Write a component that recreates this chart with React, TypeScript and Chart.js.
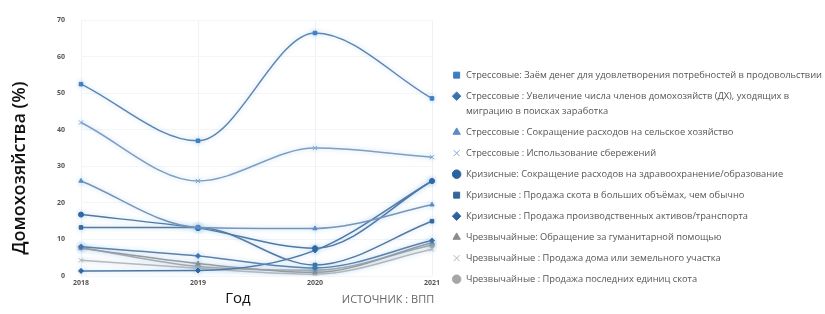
import React, { useEffect, useRef } from 'react';
import { Chart, registerables } from 'chart.js';

Chart.register(...registerables);

// ---- data ----
const years = ['2018', '2019', '2020', '2021'];

const borrowForFood = [52.5, 37, 66.5, 48.6];
const migrationForWork = [8.0, 5.5, 2.2, 9.7];
const agriSpendingCut = [26, 13.3, 13, 19.5];
const savingsUse = [42, 26, 35, 32.5];
const healthEduCut = [16.8, 13.1, 7.6, 26];
const livestockSaleMore = [13.3, 13.3, 3.0, 15];
const productiveAssetsSale = [1.4, 1.5, 7.0, 26];
const humanitarianAid = [7.6, 3.4, 1.0, 9.1];
const houseLandSale = [4.3, 2.1, 0.5, 7.3];
const lastLivestockSale = [7.8, 2.6, 1.6, 8.5];

const seriesLabels: string[][] = [
  ['Стрессовые: Заём денег для удовлетворения потребностей в продовольствии'],
  ['Стрессовые : Увеличение числа членов домохозяйств (ДХ), уходящих в', 'миграцию в поисках заработка'],
  ['Стрессовые : Сокращение расходов на сельское хозяйство'],
  ['Стрессовые : Использование сбережений'],
  ['Кризисные: Сокращение расходов на здравоохранение/образование'],
  ['Кризисные : Продажа скота в больших объёмах, чем обычно'],
  ['Кризисные : Продажа производственных активов/транспорта'],
  ['Чрезвычайные: Обращение за гуманитарной помощью'],
  ['Чрезвычайные : Продажа дома или земельного участка'],
  ['Чрезвычайные : Продажа последних единиц скота'],
];

const seriesValues = [
  borrowForFood,
  migrationForWork,
  agriSpendingCut,
  savingsUse,
  healthEduCut,
  livestockSaleMore,
  productiveAssetsSale,
  humanitarianAid,
  houseLandSale,
  lastLivestockSale,
];

const markerColors = [
  '#3b7dc2', '#3a74b0', '#5b8cc4', '#7fa7d4', '#2a64a0',
  '#33669a', '#2c62a0', '#8c8c8c', '#b4b4b4', '#a6a6a6',
];
const lineColors = [
  '#5f86b0', '#5a82ad', '#7595b8', '#7f9fc2', '#4f79a6',
  '#55799f', '#4e77a4', '#9a9a9a', '#b8b8b8', '#aaaaaa',
];
const markerStyles = [
  'rect', 'rectRot', 'triangle', 'crossRot', 'circle',
  'rect', 'rectRot', 'triangle', 'crossRot', 'circle',
];

const FONT = "'Open Sans', 'DejaVu Sans', sans-serif";

const glowPlugin = {
  id: 'glow',
  beforeDatasetsDraw(chart: any) {
    const ctx = chart.ctx;
    ctx.save();
    ctx.shadowColor = 'rgba(110, 170, 225, 0.45)';
    ctx.shadowBlur = 5;
  },
  afterDatasetsDraw(chart: any) {
    chart.ctx.restore();
  },
};

const textPlugin = {
  id: 'extraText',
  afterDraw(chart: any) {
    const ctx = chart.ctx;
    ctx.save();
    ctx.textAlign = 'center';
    ctx.textBaseline = 'middle';
    // y title
    ctx.save();
    ctx.translate(20, 168);
    ctx.rotate(-Math.PI / 2);
    ctx.fillStyle = '#111';
    ctx.font = `600 18px ${FONT}`;
    ctx.fillText('Домохозяйства (%)', 0, 0);
    ctx.restore();
    // x title
    ctx.fillStyle = '#111';
    ctx.font = `15px ${FONT}`;
    ctx.fillText('Год', 238, 299);
    // source
    ctx.fillStyle = '#666';
    ctx.font = `11px ${FONT}`;
    ctx.fillText('ИСТОЧНИК : ВПП', 388, 300);
    ctx.restore();
  },
};

export default function App() {
  const ref = useRef<HTMLCanvasElement>(null);

  useEffect(() => {
    Chart.defaults.font.family = FONT;
    const datasets = seriesValues.map((vals, i) => ({
      label: seriesLabels[i].join(' '),
      data: vals,
      borderColor: lineColors[i],
      backgroundColor: markerColors[i],
      pointBackgroundColor: markerColors[i],
      pointBorderColor: markerColors[i],
      pointBorderWidth: 1,
      pointStyle: markerStyles[i],
      pointRadius: markerStyles[i] === 'crossRot' ? 3 : 2.5,
      borderWidth: 1.5,
      cubicInterpolationMode: 'monotone',
      tension: 0.4,
      fill: false,
    }));

    const chart = new Chart(ref.current!, {
      type: 'line',
      data: { labels: years, datasets },
      options: {
        animation: false,
        responsive: true,
        maintainAspectRatio: false,
        layout: { padding: { top: 17, right: 0, bottom: 0, left: 0 } },
        plugins: {
          tooltip: { enabled: false },
          legend: {
            position: 'right',
            align: 'start',
            maxWidth: 379,
            title: {
              display: true,
              text: ' ',
              font: { size: 10, lineHeight: 1.2 },
              padding: { top: 35.5, bottom: 0 },
            },
            labels: {
              usePointStyle: true,
              boxHeight: 6,
              padding: 6,
              color: '#555',
              font: { size: 9.3, lineHeight: '15px', family: FONT },
              generateLabels: (c: any) => {
                const base = Chart.defaults.plugins.legend.labels.generateLabels(c);
                return base.map((item: any, i: number) => ({
                  ...item,
                  text: seriesLabels[i],
                  fontColor: '#555',
                }));
              },
            },
          },
        },
        scales: {
          x: {
            type: 'category',
            offset: false,
            grid: { color: '#eef2f6', drawTicks: false },
            border: { display: false },
            ticks: {
              color: '#555',
              font: { size: 7, weight: 'bold' },
              padding: 3,
              autoSkip: false,
              maxRotation: 0,
            },
            afterFit: (s: any) => {
              s.height = 38;
            },
          },
          y: {
            min: 0,
            max: 70,
            ticks: {
              stepSize: 10,
              color: '#555',
              font: { size: 7, weight: 'bold' },
              padding: 16,
            },
            grid: { color: '#f3f5f8', drawTicks: false },
            border: { display: false },
            afterFit: (s: any) => {
              s.width = 81;
            },
          },
          yR: {
            position: 'right',
            display: true,
            grid: { display: false, drawTicks: false },
            border: { display: false },
            ticks: { display: false },
            afterFit: (s: any) => {
              s.width = 14;
            },
          },
        },
      } as any,
      plugins: [glowPlugin, textPlugin],
    });
    return () => chart.destroy();
  }, []);

  return (
    <div style={{ position: 'fixed', left: 0, top: 0, width: 825, height: 314, background: '#fff' }}>
      <canvas ref={ref} />
    </div>
  );
}
